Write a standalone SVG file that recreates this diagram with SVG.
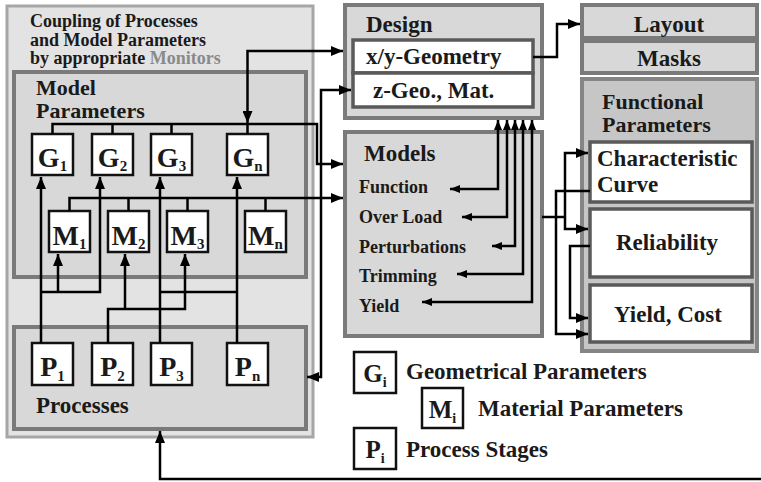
<svg xmlns="http://www.w3.org/2000/svg" width="761" height="482" viewBox="0 0 761 482">
  <defs>
    <marker id="ah" markerUnits="userSpaceOnUse" viewBox="0 0 12 10" markerWidth="12" markerHeight="10" refX="12" refY="5" orient="auto-start-reverse">
      <path d="M0,0 L12,5 L0,10 z" fill="#000"/>
    </marker>
    <marker id="ahs" markerUnits="userSpaceOnUse" viewBox="0 0 10 8" markerWidth="10" markerHeight="8" refX="10" refY="4" orient="auto-start-reverse">
      <path d="M0,0 L10,4 L0,8 z" fill="#000"/>
    </marker>
  </defs>
  <style>
    text { font-family: "Liberation Serif", "Times New Roman", serif; font-weight: bold; fill: #1a1a1a; }
    .big { font-size: 23px; }
    .head { font-size: 22px; }
    .small { font-size: 18px; }
    .sym { font-size: 28px; }
    .lsym { font-size: 25px; }
    .sub { font-size: 15px; }
    .outer { fill: #e3e3e3; stroke: #a6a6a6; stroke-width: 3; }
    .panel { fill: #d8d8d8; stroke: #7a7a7a; stroke-width: 4; }
    .fpanel { fill: #c6c6c6; stroke: #858585; stroke-width: 4; }
    .wbox { fill: #ffffff; stroke: #5a5a5a; stroke-width: 3.5; }
    .pbox { fill: #ffffff; stroke: #111111; stroke-width: 2.5; }
    .wire { fill: none; stroke: #000000; stroke-width: 2.5; }
  </style>

  <!-- Left coupling panel -->
  <g id="coupling">
    <rect class="outer" x="7" y="6" width="306" height="431"/>
    <text class="small" x="30" y="27">Coupling of Processes</text>
    <text class="small" x="30" y="46">and Model Parameters</text>
    <text class="small" x="30" y="64">by appropriate <tspan fill="#8a8a8a">Monitors</tspan></text>
  </g>

  <g id="model-parameters">
    <rect class="panel" x="14" y="72" width="292" height="205"/>
    <text class="head" x="36" y="95">Model</text>
    <text class="head" x="36" y="118">Parameters</text>
  </g>

  <g id="processes">
    <rect class="panel" x="14" y="327" width="292" height="102"/>
    <text class="big" x="36" y="413">Processes</text>
  </g>

  <!-- Geometrical parameters -->
  <g id="G1"><rect class="pbox" x="32" y="134" width="41" height="41"/><text class="sym" x="52.5" y="167" text-anchor="middle">G<tspan class="sub" dy="4">1</tspan></text></g>
  <g id="G2"><rect class="pbox" x="92" y="134" width="41" height="41"/><text class="sym" x="112.5" y="167" text-anchor="middle">G<tspan class="sub" dy="4">2</tspan></text></g>
  <g id="G3"><rect class="pbox" x="151" y="134" width="41" height="41"/><text class="sym" x="171.5" y="167" text-anchor="middle">G<tspan class="sub" dy="4">3</tspan></text></g>
  <g id="Gn"><rect class="pbox" x="227" y="134" width="41" height="41"/><text class="sym" x="247.5" y="167" text-anchor="middle">G<tspan class="sub" dy="4">n</tspan></text></g>

  <!-- Material parameters -->
  <g id="M1"><rect class="pbox" x="49" y="211" width="41" height="41"/><text class="sym" x="69.5" y="245" text-anchor="middle">M<tspan class="sub" dy="4">1</tspan></text></g>
  <g id="M2"><rect class="pbox" x="108" y="211" width="41" height="41"/><text class="sym" x="128.5" y="245" text-anchor="middle">M<tspan class="sub" dy="4">2</tspan></text></g>
  <g id="M3"><rect class="pbox" x="167" y="211" width="41" height="41"/><text class="sym" x="187.5" y="245" text-anchor="middle">M<tspan class="sub" dy="4">3</tspan></text></g>
  <g id="Mn"><rect class="pbox" x="245" y="211" width="41" height="41"/><text class="sym" x="265.5" y="245" text-anchor="middle">M<tspan class="sub" dy="4">n</tspan></text></g>

  <!-- Process stages -->
  <g id="P1"><rect class="pbox" x="32" y="343" width="41" height="42"/><text class="sym" x="52.5" y="376" text-anchor="middle">P<tspan class="sub" dy="5">1</tspan></text></g>
  <g id="P2"><rect class="pbox" x="92" y="343" width="41" height="42"/><text class="sym" x="112.5" y="376" text-anchor="middle">P<tspan class="sub" dy="5">2</tspan></text></g>
  <g id="P3"><rect class="pbox" x="151" y="343" width="41" height="42"/><text class="sym" x="171.5" y="376" text-anchor="middle">P<tspan class="sub" dy="5">3</tspan></text></g>
  <g id="Pn"><rect class="pbox" x="227" y="343" width="41" height="42"/><text class="sym" x="247.5" y="376" text-anchor="middle">P<tspan class="sub" dy="5">n</tspan></text></g>

  <!-- Design -->
  <g id="design">
    <rect class="panel" x="345" y="5" width="197" height="113"/>
    <text class="big" x="366" y="32">Design</text>
    <rect class="wbox" x="353" y="40" width="180" height="33"/>
    <text class="big" x="366" y="64">x/y-Geometry</text>
    <rect class="wbox" x="353" y="73" width="180" height="34"/>
    <text class="big" x="373" y="98">z-Geo., Mat.</text>
  </g>

  <!-- Models -->
  <g id="models">
    <rect class="panel" x="345" y="132" width="197" height="204"/>
    <text class="big" x="364" y="161">Models</text>
    <text class="small" x="359" y="193">Function</text>
    <text class="small" x="359" y="223">Over Load</text>
    <text class="small" x="359" y="253">Perturbations</text>
    <text class="small" x="359" y="282">Trimming</text>
    <text class="small" x="359" y="312">Yield</text>
  </g>

  <!-- Layout / Masks -->
  <g id="layout">
    <rect class="panel" x="582" y="5" width="175" height="33" stroke-width="3"/>
    <text class="big" x="669" y="32" text-anchor="middle">Layout</text>
  </g>
  <g id="masks">
    <rect class="panel" x="582" y="41" width="175" height="32" stroke-width="3"/>
    <text class="big" x="669" y="66" text-anchor="middle">Masks</text>
  </g>

  <!-- Functional parameters -->
  <g id="functional-parameters">
    <rect class="fpanel" x="582" y="79" width="175" height="272"/>
    <text class="head" x="602" y="109">Functional</text>
    <text class="head" x="602" y="132">Parameters</text>
  </g>
  <g id="characteristic-curve">
    <rect class="wbox" x="590" y="142" width="162" height="60"/>
    <text class="big" x="597" y="166">Characteristic</text>
    <text class="big" x="597" y="192">Curve</text>
  </g>
  <g id="reliability">
    <rect class="wbox" x="590" y="209" width="162" height="68"/>
    <text class="big" x="667" y="250" text-anchor="middle">Reliability</text>
  </g>
  <g id="yield-cost">
    <rect class="wbox" x="590" y="285" width="162" height="57"/>
    <text class="big" x="668" y="322" text-anchor="middle">Yield, Cost</text>
  </g>

  <!-- Legend -->
  <g id="legend-G">
    <rect class="pbox" x="354" y="352" width="42" height="41"/>
    <text class="lsym" x="375" y="382" text-anchor="middle">G<tspan font-size="14" dy="5">i</tspan></text>
    <text class="big" x="406" y="379">Geometrical Parameters</text>
  </g>
  <g id="legend-M">
    <rect class="pbox" x="422" y="388" width="41" height="40"/>
    <text class="lsym" x="442.5" y="418" text-anchor="middle">M<tspan font-size="14" dy="5">i</tspan></text>
    <text class="big" x="478" y="416">Material Parameters</text>
  </g>
  <g id="legend-P">
    <rect class="pbox" x="354" y="428" width="42" height="41"/>
    <text class="lsym" x="375" y="458" text-anchor="middle">P<tspan font-size="14" dy="5">i</tspan></text>
    <text class="big" x="406" y="457">Process Stages</text>
  </g>

  <!-- Connectors -->
  <g id="connectors">
    <!-- G bus to Models -->
    <path class="wire" d="M52.5,134 V124 H317 V164 H343" marker-end="url(#ah)"/>
    <path class="wire" d="M112.5,134 V124 M171.5,134 V124 M247.5,134 V124"/>
    <!-- M bus to Models -->
    <path class="wire" d="M69.5,211 V198 H343" marker-end="url(#ah)"/>
    <path class="wire" d="M128.5,211 V198 M187.5,211 V198 M265.5,211 V198"/>
    <!-- Design x/y-Geometry to Gn -->
    <path class="wire" d="M343,51 H247.5 V123" marker-start="url(#ah)" marker-end="url(#ah)"/>
    <!-- z-Geo./Mat. to Processes -->
    <path class="wire" d="M351,90 H321 V377 H307" marker-start="url(#ah)" marker-end="url(#ah)"/>
    <!-- x/y-Geometry to Layout -->
    <path class="wire" d="M533,57 H557 V24 H580" marker-end="url(#ah)"/>
    <!-- Processes to parameters -->
    <path class="wire" d="M41,343 V177" marker-end="url(#ah)"/>
    <path class="wire" d="M41,292 H100 V177" marker-end="url(#ah)"/>
    <path class="wire" d="M58,292 V254" marker-end="url(#ah)"/>
    <path class="wire" d="M108,343 V309 H185 V254" marker-end="url(#ah)"/>
    <path class="wire" d="M125,309 V254" marker-end="url(#ah)"/>
    <path class="wire" d="M160,343 V177" marker-end="url(#ah)"/>
    <path class="wire" d="M160,292 H237"/>
    <path class="wire" d="M237,343 V177" marker-end="url(#ah)"/>
    <!-- Models to Design -->
    <path class="wire" d="M450,189 H498 V120" marker-start="url(#ahs)" marker-end="url(#ahs)"/>
    <path class="wire" d="M462,217 H507 V120" marker-start="url(#ahs)" marker-end="url(#ahs)"/>
    <path class="wire" d="M492,246 H515 V120" marker-start="url(#ahs)" marker-end="url(#ahs)"/>
    <path class="wire" d="M457,274 H523 V120" marker-start="url(#ahs)" marker-end="url(#ahs)"/>
    <path class="wire" d="M422,302 H532 V120" marker-start="url(#ahs)" marker-end="url(#ahs)"/>
    <!-- Models to Functional Parameters -->
    <path class="wire" d="M542,217 H565"/>
    <path class="wire" d="M588,153 H565 V229 H588" marker-start="url(#ah)" marker-end="url(#ah)"/>
    <path class="wire" d="M590,191 H556 V334 H588" marker-end="url(#ah)"/>
    <path class="wire" d="M590,246 H570 V318 H588" marker-end="url(#ah)"/>
    <!-- Feedback to Processes -->
    <path class="wire" d="M761,479 H160 V431" marker-end="url(#ah)"/>
  </g>
</svg>
